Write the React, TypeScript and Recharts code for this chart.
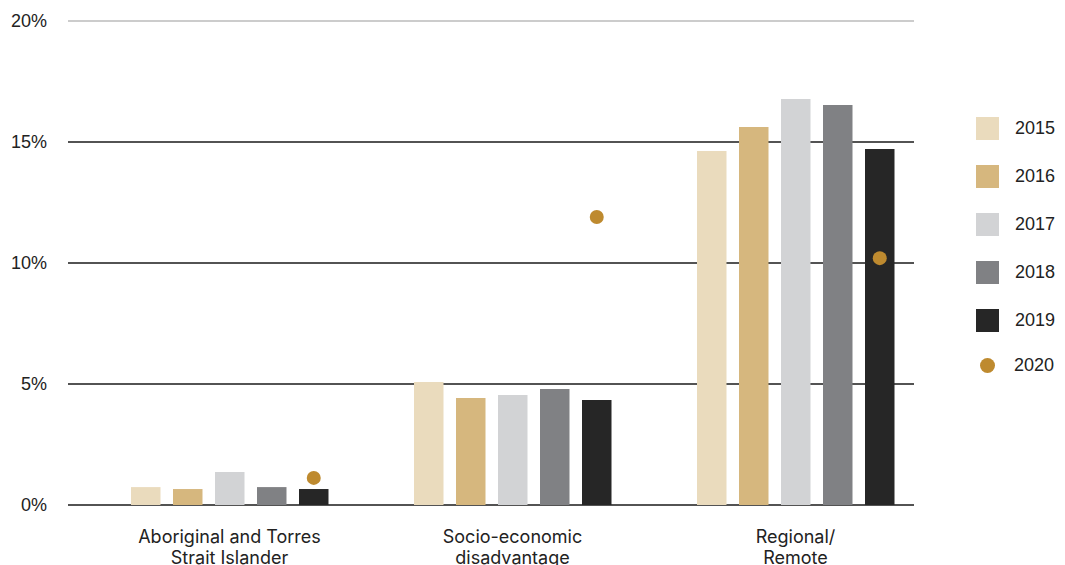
import React from "react";
import { ComposedChart, Bar, XAxis, YAxis, CartesianGrid } from "recharts";

const categories = ["Aboriginal and Torres Strait Islander", "Socio-economic disadvantage", "Regional/ Remote"];
const tickLabels = [["Aboriginal and Torres", "Strait Islander"], ["Socio-economic", "disadvantage"], ["Regional/", "Remote"]];
const v2015 = [0.74, 5.08, 14.63];
const v2016 = [0.66, 4.42, 15.62];
const v2017 = [1.36, 4.55, 16.78];
const v2018 = [0.74, 4.79, 16.53];
const v2019 = [0.66, 4.34, 14.71];
const v2020 = [1.12, 11.9, 10.2];
const yTicks = [0, 5, 10, 15, 20];
const years = ["2015", "2016", "2017", "2018", "2019"];
const colors = ["#EADBBD", "#D6B77E", "#D2D3D5", "#808184", "#262626"];
const dotColor = "#BE8A2F";

const data = categories.map((c, i) => ({
  category: c,
  y2015: v2015[i],
  y2016: v2016[i],
  y2017: v2017[i],
  y2018: v2018[i],
  y2019: v2019[i],
  y2020: v2020[i],
}));

const XTick = (props: any) => {
  const { x, y, index } = props;
  const lines = tickLabels[index] || [];
  return (
    <text x={x} y={y} textAnchor="middle" fill="#222" fontSize={18} fontFamily="Inter, Roboto, sans-serif">
      {lines.map((l, i) => (
        <tspan key={i} x={x} dy={i === 0 ? 30 : 20.5}>{l}</tspan>
      ))}
    </text>
  );
};

const gridLine = (props: any) => {
  const { x1, x2, y1, y2, index } = props;
  const top = y1 < 30;
  return (
    <line
      key={`g-${index}-${y1}`}
      x1={x1 - 20}
      x2={x2 - 23}
      y1={y1}
      y2={y2}
      stroke={top ? "#CCCCCC" : "#1A1A1A"}
      strokeWidth={top ? 2 : 1.3}
    />
  );
};

const DotShape = (props: any) => {
  const { x, y, width } = props;
  if (x == null || y == null) return null;
  return <circle cx={x + width / 2} cy={y} r={7} fill={dotColor} />;
};

export default function App() {
  return (
    <div style={{ position: "absolute", left: 0, top: 0, width: 1065, height: 565, background: "#fff" }}>
      <ComposedChart
        width={1065}
        height={565}
        data={data}
        margin={{ top: 21, right: 128, bottom: 0, left: 0 }}
        barGap={12.5}
        barCategoryGap="15%"
      >
        <CartesianGrid vertical={false} horizontal={gridLine} />
        <XAxis
          dataKey="category"
          axisLine={false}
          tickLine={false}
          height={60}
          interval={0}
          tick={<XTick />}
        />
        <XAxis xAxisId="dot" dataKey="category" hide />
        <YAxis
          domain={[0, 20]}
          ticks={yTicks}
          width={88}
          axisLine={false}
          tickLine={false}
          tickSize={0}
          tickMargin={41}
          tickFormatter={(v: number) => `${v}%`}
          tick={{ fill: "#222", fontSize: 18, fontFamily: "Liberation Sans, Arial, sans-serif" }}
        />
        {years.map((yr, i) => (
          <Bar key={yr} dataKey={`y${yr}`} fill={colors[i]} barSize={29.5} isAnimationActive={false} />
        ))}
        <Bar xAxisId="dot" dataKey="d1" barSize={29.5} isAnimationActive={false} />
        <Bar xAxisId="dot" dataKey="d2" barSize={29.5} isAnimationActive={false} />
        <Bar xAxisId="dot" dataKey="d3" barSize={29.5} isAnimationActive={false} />
        <Bar xAxisId="dot" dataKey="d4" barSize={29.5} isAnimationActive={false} />
        <Bar xAxisId="dot" dataKey="y2020" barSize={29.5} fill={dotColor} shape={<DotShape />} isAnimationActive={false} />
      </ComposedChart>
      <div style={{ position: "absolute", left: 976, top: 117, fontFamily: "Liberation Sans, Arial, sans-serif", fontSize: 18, color: "#222" }}>
        {years.map((yr, i) => (
          <div key={yr} style={{ position: "absolute", left: 0, top: i * 48, height: 23, width: 100, display: "flex", alignItems: "center" }}>
            <div style={{ width: 23, height: 23, background: colors[i] }} />
            <span style={{ marginLeft: 16 }}>{yr}</span>
          </div>
        ))}
        <div style={{ position: "absolute", left: 0, top: 5 * 48 - 3, height: 23, width: 100, display: "flex", alignItems: "center" }}>
          <div style={{ width: 23, height: 23, display: "flex", alignItems: "center", justifyContent: "center" }}>
            <div style={{ width: 15, height: 15, borderRadius: "50%", background: dotColor }} />
          </div>
          <span style={{ marginLeft: 15 }}>2020</span>
        </div>
      </div>
    </div>
  );
}
